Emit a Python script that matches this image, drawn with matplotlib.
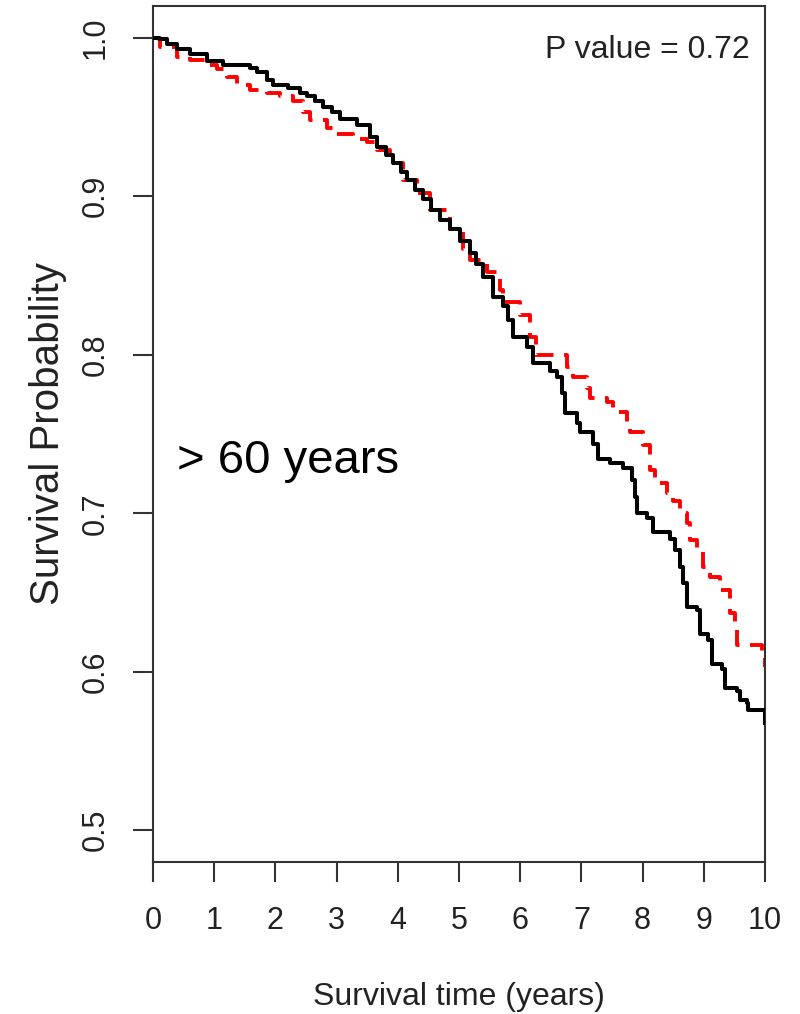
import matplotlib
matplotlib.use("Agg")
import matplotlib.pyplot as plt

plt.rcParams['font.family'] = ['Liberation Sans', 'DejaVu Sans']

# Kaplan-Meier step knots (time in years, survival probability)
black_t = [0, 0.10, 0.23, 0.40, 0.60, 0.88, 1.14, 1.58, 1.70, 1.86, 1.96, 2.20, 2.40,
           2.52, 2.65, 2.78, 2.92, 3.06, 3.33, 3.55, 3.66, 3.80, 3.92, 4.05, 4.15, 4.28,
           4.41, 4.55, 4.69, 4.85, 5.02, 5.18, 5.28, 5.39, 5.56, 5.72, 5.80, 5.88, 6.11,
           6.21, 6.49, 6.60, 6.68, 6.73, 6.93, 6.98, 7.19, 7.27, 7.47, 7.68, 7.83, 7.88,
           7.91, 8.07, 8.17, 8.45, 8.53, 8.61, 8.66, 8.73, 8.89, 8.94, 9.07, 9.13, 9.30,
           9.35, 9.54, 9.59, 9.71, 9.72, 10.0]
black_s = [1.0, 0.999, 0.996, 0.993, 0.990, 0.985, 0.983, 0.981, 0.9785, 0.9735, 0.970,
           0.968, 0.965, 0.963, 0.960, 0.956, 0.953, 0.949, 0.945, 0.9375, 0.931, 0.926,
           0.921, 0.915, 0.910, 0.904, 0.898, 0.891, 0.885, 0.879, 0.872, 0.864, 0.857,
           0.849, 0.8365, 0.831, 0.822, 0.811, 0.805, 0.795, 0.790, 0.786, 0.776, 0.763,
           0.757, 0.751, 0.744, 0.734, 0.732, 0.7285, 0.721, 0.710, 0.700, 0.697, 0.688,
           0.684, 0.677, 0.666, 0.656, 0.641, 0.639, 0.624, 0.620, 0.605, 0.602, 0.590,
           0.588, 0.582, 0.580, 0.576, 0.5675]

red_t = [0, 0.11, 0.39, 0.60, 0.88, 1.05, 1.21, 1.37, 1.58, 1.86, 2.07, 2.29, 2.45, 2.57,
         2.84, 2.94, 3.27, 3.50, 3.66, 3.87, 4.08, 4.31, 4.53, 4.85, 5.07, 5.18, 5.46,
         5.67, 5.72, 6.00, 6.16, 6.25, 6.76, 6.86, 7.09, 7.14, 7.42, 7.52, 7.75, 7.79,
         8.01, 8.12, 8.20, 8.40, 8.50, 8.61, 8.73, 8.77, 8.89, 8.99, 9.10, 9.26, 9.43,
         9.51, 9.54, 9.95, 10.0]
red_s = [1.0, 0.994, 0.988, 0.986, 0.983, 0.980, 0.975, 0.970, 0.967, 0.965, 0.963, 0.960,
         0.953, 0.948, 0.943, 0.939, 0.936, 0.934, 0.929, 0.921, 0.910, 0.902, 0.891,
         0.879, 0.867, 0.860, 0.852, 0.841, 0.833, 0.825, 0.811, 0.800, 0.792, 0.786,
         0.779, 0.773, 0.770, 0.764, 0.757, 0.751, 0.743, 0.727, 0.719, 0.713, 0.708,
         0.700, 0.694, 0.683, 0.677, 0.666, 0.660, 0.6515, 0.637, 0.628, 0.617, 0.6105,
         0.603]

x_ticks = list(range(0, 11))
y_ticks = [0.5, 0.6, 0.7, 0.8, 0.9, 1.0]
y_ticklabels = ['0.5', '0.6', '0.7', '0.8', '0.9', '1.0']

fig = plt.figure(figsize=(8, 10.14), dpi=100)
ax = fig.add_axes([0.19125, 0.1499, 0.765, 0.8442])

ax.step(black_t, black_s, where='post', color='black', lw=2.9, zorder=3)
ax.step(red_t, red_s, where='post', color='#ff0000', lw=2.8, dashes=(4.5, 2.7), zorder=2)

ax.set_xlim(0, 10)
ax.set_ylim(0.48, 1.02)
ax.set_xticks(x_ticks)
ax.set_xticklabels([str(v) for v in x_ticks])
ax.set_yticks(y_ticks)
ax.set_yticklabels(y_ticklabels, rotation=90, va='center')

for sp in ax.spines.values():
    sp.set_linewidth(1.5)
    sp.set_color('#333333')
ax.tick_params(axis='both', length=14.4, width=1.5, color='#333333',
               labelsize=22, labelcolor='#222222')
ax.tick_params(axis='x', pad=17)
ax.tick_params(axis='y', pad=16)

ax.set_xlabel('Survival time (years)', fontsize=23, color='#222222', va='center')
ax.xaxis.set_label_coords(0.5, -0.158)
ax.set_ylabel('Survival Probability', fontsize=29, color='#222222', va='center')
ax.yaxis.set_label_coords(-0.172, 0.5)

ax.text(0.9755, 0.9393, 'P value = 0.72', transform=ax.transAxes, ha='right',
        va='baseline', fontsize=23, color='#222222')
ax.text(0.039, 0.4544, '> 60 years', transform=ax.transAxes, ha='left',
        va='baseline', fontsize=34, color='black')

fig.savefig('out.png', dpi=100)
